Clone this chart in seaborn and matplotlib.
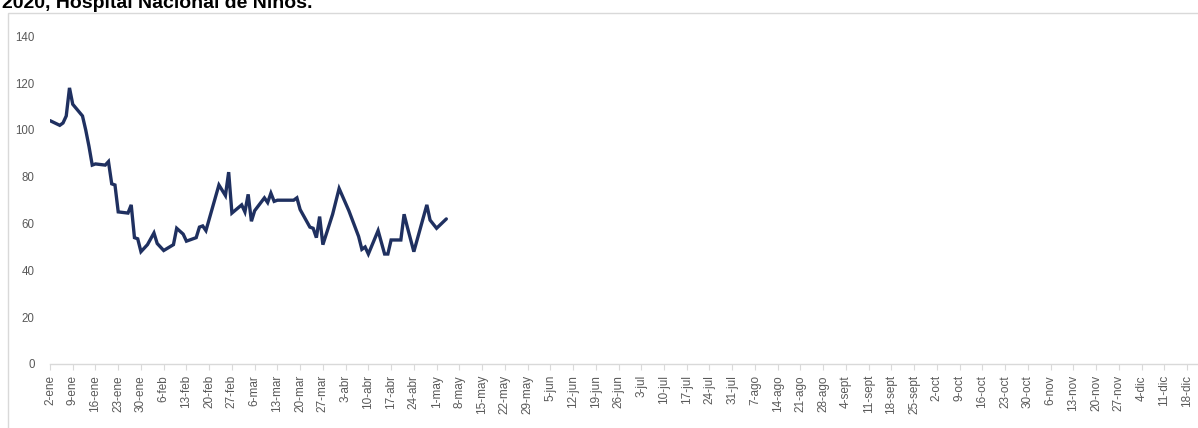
import matplotlib
matplotlib.use("Agg")
import matplotlib.pyplot as plt
import matplotlib.dates as mdates
from matplotlib.patches import Rectangle
import numpy as np
import pandas as pd
import seaborn as sns

# Census readings: days counted from the first date on the axis
start_date = "2021-01-02"
day_offsets = [
    0, 3, 4, 5, 6, 7,
    10, 11, 12, 13, 14, 17,
    18, 19, 20, 21, 24, 25,
    26, 27, 28, 30, 32, 33,
    35, 38, 39, 41, 42, 45,
    46, 47, 48, 52, 54, 55,
    56, 59, 60, 61, 62, 63,
    66, 67, 68, 69, 70, 75,
    76, 77, 80, 81, 82, 83,
    84, 87, 89, 92, 95, 96,
    97, 98, 101, 103, 104, 105,
    108, 109, 110, 112, 116, 117,
    119, 122,
]
values = [
    104, 102, 103, 106, 118, 111,
    106, 100, 93, 85, 85.5, 85,
    86.5, 77, 76.5, 65, 64.5, 68,
    54, 53.5, 48, 51, 56, 51.5,
    48.5, 51, 58, 55.5, 52.5, 54,
    58.5, 59, 57, 76.5, 72, 82,
    64.5, 68, 65, 72.5, 61, 65.5,
    71, 69, 73, 69.5, 70, 70,
    71, 66, 58.5, 58, 54, 63,
    51, 64, 75, 65.5, 54.5, 49,
    50, 47, 57, 47, 47, 53,
    53, 64, 58.5, 48, 68, 61.5,
    58, 62,
]

title = "2020, Hospital Nacional de Niños."
month_abbr = ["ene", "feb", "mar", "abr", "may", "jun",
              "jul", "ago", "sept", "oct", "nov", "dic"]
tick_end = "2021-12-18"
y_ticks = [0, 20, 40, 60, 80, 100, 120, 140]

df = pd.DataFrame({
    "fecha": pd.Timestamp(start_date) + pd.to_timedelta(day_offsets, unit="D"),
    "valor": values,
})

sns.set_style("white")
plt.rcParams["font.family"] = ["Liberation Sans", "DejaVu Sans"]

W, H = 1198, 428
fig = plt.figure(figsize=(W / 100, H / 100), dpi=100)
fig.patch.set_facecolor("white")

# chart frame
fig.add_artist(Rectangle((8 / W, -0.1), 1.2, 1 - 12.5 / H + 0.1,
                         transform=fig.transFigure, fill=False,
                         edgecolor="#d9d9d9", linewidth=1.0))

fig.text(2 / W, 1 - 7.5 / H, title, fontsize=14, fontweight="bold",
         color="black", ha="left", va="baseline")

ax = fig.add_axes([50 / W, 1 - 364 / H, 1 - 50 / W, (364 - 36.4) / H])

sns.lineplot(data=df, x="fecha", y="valor", ax=ax, color="#1f3060",
             linewidth=2.4, solid_joinstyle="miter")

x0 = mdates.date2num(pd.Timestamp(start_date))
ax.set_xlim(x0, x0 + (W - 50) / (22.74 / 7))
ax.set_ylim(y_ticks[0], y_ticks[-1])

ticks = pd.date_range(start_date, tick_end, freq="7D")
ax.set_xticks(mdates.date2num(ticks))
ax.set_xticklabels([f"{d.day}-{month_abbr[d.month - 1]}" for d in ticks],
                   rotation=90, fontsize=8.5, color="#595959")
ax.set_yticks(y_ticks)
ax.set_yticklabels([str(v) for v in y_ticks], fontsize=8.3, color="#595959")

ax.tick_params(axis="x", which="major", length=4, width=0.8, color="#d9d9d9",
               pad=4, bottom=True)
ax.tick_params(axis="y", length=0, pad=11)

for side in ["top", "right", "left"]:
    ax.spines[side].set_visible(False)
ax.spines["bottom"].set_color("#d9d9d9")
ax.spines["bottom"].set_linewidth(1.0)
ax.grid(False)
ax.set_xlabel("")
ax.set_ylabel("")
ax.set_facecolor("none")

fig.savefig("out.png", dpi=100)
